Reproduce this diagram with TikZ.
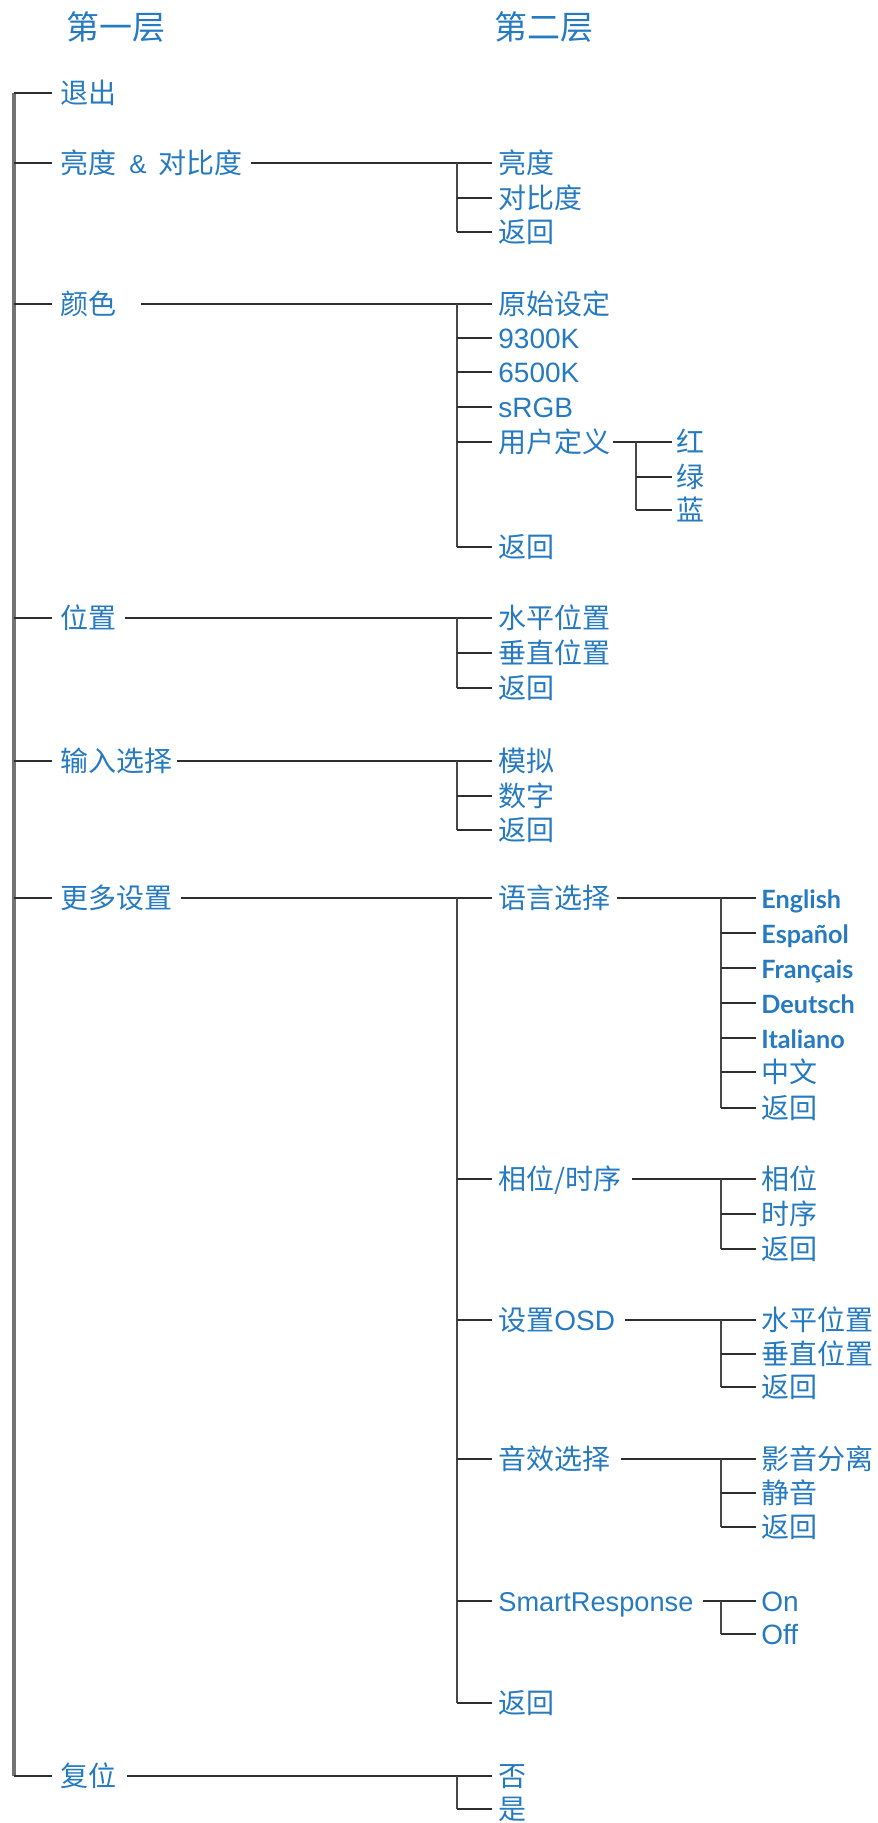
\documentclass[tikz,border=0pt]{standalone}
\usepackage{fontspec}
\setmainfont{Liberation Sans}
\newfontfamily\cjk{Noto Sans CJK SC}
\newfontfamily\gill{Lato}
\definecolor{mblue}{RGB}{38,122,192}
\begin{document}
\begin{tikzpicture}[x=0.5pt,y=-0.5pt,
  lab/.style={anchor=west, inner sep=0pt, text=mblue, font=\cjk\fontsize{14}{16}\selectfont, text height=11pt, text depth=0.6pt},
  lat/.style={lab, font=\rmfamily\fontsize{14}{16}\selectfont},
  lang/.style={lab, font=\gill\bfseries\fontsize{12.6}{15}\selectfont},
  ttl/.style={lab, font=\cjk\fontsize{16.5}{18}\selectfont, text height=13pt, text depth=0.7pt},
  br/.style={draw=black!82, line width=1.1pt},
  sub/.style={draw=black!72, line width=1.4pt},
  trunk/.style={draw=black!55, line width=2pt}]
\useasboundingbox (0,0) rectangle (877,1823);
% titles
\node[ttl] (t1) at (66,27) {第一层};
\node[ttl] (t2) at (494,27) {第二层};
% level 1
\node[lab] (a1) at (60,93) {退出};
\node[lab] (a2) at (60,163) {亮度\hspace{6.5pt}{\rmfamily\fontsize{13}{15}\selectfont\&}\hspace{6pt}对比度};
\node[lab] (a3) at (60,304) {颜色};
\node[lab] (a4) at (60,618) {位置};
\node[lab] (a5) at (60,761) {输入选择};
\node[lab] (a6) at (60,898) {更多设置};
\node[lab] (a7) at (60,1776) {复位};
% level 2
\node[lab] (b1) at (498,163) {亮度};
\node[lab] (b2) at (498,198) {对比度};
\node[lab] (b3) at (498,232) {返回};
\node[lab] (c1) at (498,304) {原始设定};
\node[lat] (c2) at (498,338) {9300K};
\node[lat] (c3) at (498,372) {6500K};
\node[lat] (c4) at (498,407) {sRGB};
\node[lab] (c5) at (498,442) {用户定义};
\node[lab] (c6) at (498,547) {返回};
\node[lab] (u1) at (676,442) {红};
\node[lab] (u2) at (676,477) {绿};
\node[lab] (u3) at (676,510) {蓝};
\node[lab] (d1) at (498,618) {水平位置};
\node[lab] (d2) at (498,653) {垂直位置};
\node[lab] (d3) at (498,688) {返回};
\node[lab] (e1) at (498,761) {模拟};
\node[lab] (e2) at (498,796) {数字};
\node[lab] (e3) at (498,830) {返回};
\node[lab] (f1) at (498,898) {语言选择};
\node[lab] (f2) at (498,1179) {相位/时序};
\node[lab] (f3) at (498,1320) {设置{\rmfamily OSD}};
\node[lab] (f4) at (498,1459) {音效选择};
\node[lat, font=\rmfamily\fontsize{13.6}{16}\selectfont] (f5) at (498,1601) {SmartResponse};
\node[lab] (f6) at (498,1703) {返回};
\node[lab] (g1) at (498,1776) {否};
\node[lab] (g2) at (498,1809) {是};
% level 3
\node[lang] (l1) at (761,898) {English};
\node[lang] (l2) at (761,933) {Español};
\node[lang] (l3) at (761,968) {Français};
\node[lang] (l4) at (761,1003) {Deutsch};
\node[lang] (l5) at (761,1038) {Italiano};
\node[lab] (l6) at (761,1072) {中文};
\node[lab] (l7) at (761,1108) {返回};
\node[lab] (p1) at (761,1179) {相位};
\node[lab] (p2) at (761,1214) {时序};
\node[lab] (p3) at (761,1249) {返回};
\node[lab] (o1) at (761,1320) {水平位置};
\node[lab] (o2) at (761,1354) {垂直位置};
\node[lab] (o3) at (761,1387) {返回};
\node[lab] (s1) at (761,1459) {影音分离};
\node[lab] (s2) at (761,1493) {静音};
\node[lab] (s3) at (761,1527) {返回};
\node[lat] (r1) at (761,1601) {On};
\node[lat] (r2) at (761,1634) {Off};
% trunk
\coordinate (T0) at (14,93);
\coordinate (T1) at (14,1776);
\draw[trunk] (T0) -- (T1);
\foreach \n in {a1,a2,a3,a4,a5,a6,a7}
  \draw[br] (T0|-\n.west) -- ([xshift=-4pt]\n.west);
% level 1 -> level 2
\draw[br] ([xshift=4pt]a2.east) -- ([xshift=-3pt]b1.west);
\draw[br] ([xshift=12pt]a3.east) -- ([xshift=-3pt]c1.west);
\draw[br] ([xshift=4pt]a4.east) -- ([xshift=-3pt]d1.west);
\draw[br] ([xshift=2pt]a5.east) -- ([xshift=-3pt]e1.west);
\draw[br] ([xshift=4pt]a6.east) -- ([xshift=-3pt]f1.west);
\draw[br] ([xshift=5pt]a7.east) -- ([xshift=-3pt]g1.west);
\coordinate (V) at (457,0);
\draw[sub] (V|-b1.west) -- (V|-b3.west);
\draw[sub] (V|-c1.west) -- (V|-c6.west);
\draw[sub] (V|-d1.west) -- (V|-d3.west);
\draw[sub] (V|-e1.west) -- (V|-e3.west);
\draw[sub] (V|-f1.west) -- (V|-f6.west);
\draw[sub] (V|-g1.west) -- (V|-g2.west);
\foreach \n in {b2,b3,c2,c3,c4,c5,c6,d2,d3,e2,e3,f2,f3,f4,f5,f6,g2}
  \draw[br] (V|-\n.west) -- ([xshift=-3pt]\n.west);
% level 2 -> level 3
\coordinate (W) at (721,0);
\coordinate (U) at (636,0);
\draw[br] ([xshift=1pt]c5.east) -- ([xshift=-2pt]u1.west);
\draw[sub] (U|-u1.west) -- (U|-u3.west);
\foreach \n in {u2,u3}
  \draw[br] (U|-\n.west) -- ([xshift=-2pt]\n.west);
\draw[br] ([xshift=3pt]f1.east) -- ([xshift=-2.5pt]l1.west);
\draw[br] ([xshift=5pt]f2.east) -- ([xshift=-2.5pt]p1.west);
\draw[br] ([xshift=5pt]f3.east) -- ([xshift=-2.5pt]o1.west);
\draw[br] ([xshift=5pt]f4.east) -- ([xshift=-2.5pt]s1.west);
\draw[br] ([xshift=4.5pt]f5.east) -- ([xshift=-2.5pt]r1.west);
\draw[sub] (W|-l1.west) -- (W|-l7.west);
\draw[sub] (W|-p1.west) -- (W|-p3.west);
\draw[sub] (W|-o1.west) -- (W|-o3.west);
\draw[sub] (W|-s1.west) -- (W|-s3.west);
\draw[sub] (W|-r1.west) -- (W|-r2.west);
\foreach \n in {l2,l3,l4,l5,l6,l7,p2,p3,o2,o3,s2,s3,r2}
  \draw[br] (W|-\n.west) -- ([xshift=-2.5pt]\n.west);
\end{tikzpicture}
\end{document}
